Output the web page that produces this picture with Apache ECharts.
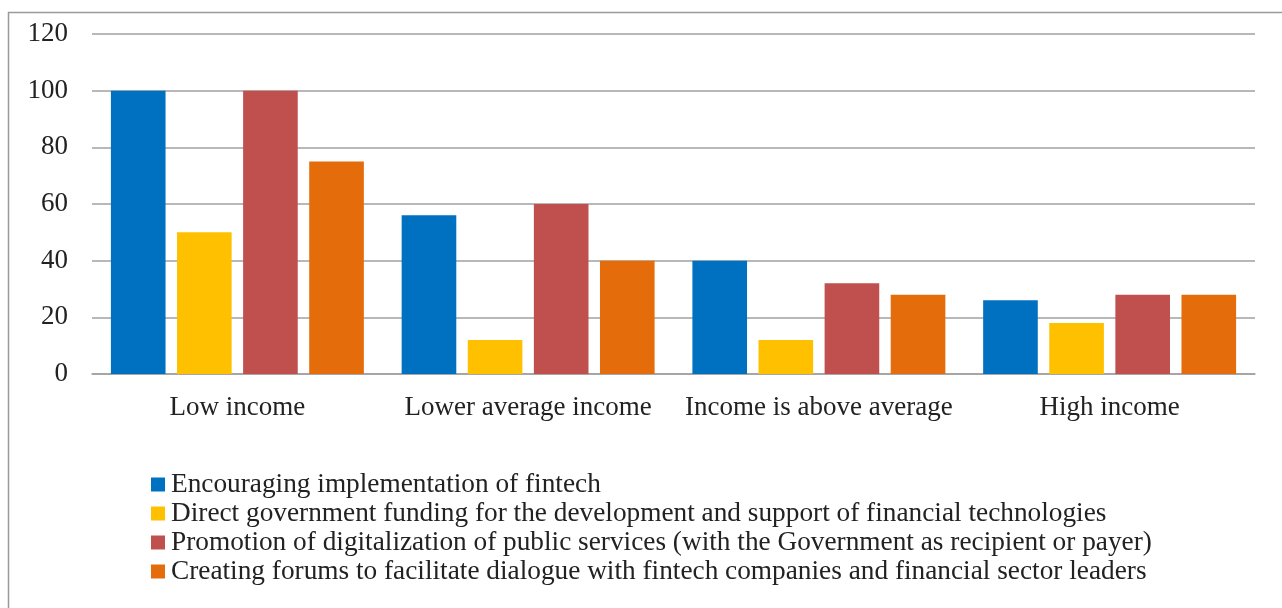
<!DOCTYPE html>
<html>
<head>
<meta charset="utf-8">
<script src="https://cdn.jsdelivr.net/npm/echarts@6/dist/echarts.min.js"></script>
<style>
html,body{margin:0;padding:0;background:#fff;}
#chart{width:1282px;height:608px;}
</style>
</head>
<body>
<div id="chart"></div>
<script>
const categories = ['Low income', 'Lower average income', 'Income is above average', 'High income'];
const seriesNames = [
  'Encouraging implementation of fintech',
  'Direct government funding for the development and support of financial technologies',
  'Promotion of digitalization of public services (with the Government as recipient or payer)',
  'Creating forums to facilitate dialogue with fintech companies and financial sector leaders'
];
const encouraging = [100, 56, 40, 26];
const directFunding = [50, 12, 12, 18];
const digitalization = [100, 60, 32, 28];
const forums = [75, 40, 28, 28];
const colors = ['#0070c0', '#ffc000', '#c0504d', '#e46c0a'];
const yTicks = { min: 0, max: 120, interval: 20 };

const font = 'Liberation Serif, Times New Roman, serif';
const values = [encouraging, directFunding, digitalization, forums];
const chart = echarts.init(document.getElementById('chart'), null, { renderer: 'canvas' });
chart.setOption({
  animation: false,
  backgroundColor: '#ffffff',
  graphic: [{
    type: 'rect',
    shape: { x: 8.5, y: 12.5, width: 1300, height: 640 },
    style: { fill: 'none', stroke: '#9a9a9a', lineWidth: 1.5 },
    silent: true
  }],
  grid: { left: 92, right: 27, top: 34, bottom: 234, containLabel: false },
  legend: {
    orient: 'vertical',
    left: 151,
    top: 471,
    itemWidth: 14,
    itemHeight: 14,
    itemGap: 2,
    padding: 0,
    icon: 'rect',
    textStyle: { fontFamily: font, fontSize: 27.3, color: '#222', padding: [0, 0, 0, 1] },
    data: seriesNames
  },
  xAxis: {
    type: 'category',
    data: categories,
    axisLine: { show: true, lineStyle: { color: '#a0a0a0', width: 1.5 } },
    axisTick: { show: false },
    axisLabel: { fontFamily: font, fontSize: 27, color: '#222', margin: 20, interval: 0 }
  },
  yAxis: {
    type: 'value',
    min: yTicks.min, max: yTicks.max, interval: yTicks.interval,
    axisLine: { show: false },
    axisTick: { show: false },
    axisLabel: { fontFamily: font, fontSize: 27, color: '#222', margin: 24 },
    splitLine: { lineStyle: { color: '#a0a0a0', width: 1.5 } }
  },
  series: values.map((v, i) => ({
    name: seriesNames[i],
    type: 'bar',
    data: v,
    barGap: '21%',
    barCategoryGap: '13%',
    itemStyle: { color: colors[i] }
  }))
});
</script>
</body>
</html>
